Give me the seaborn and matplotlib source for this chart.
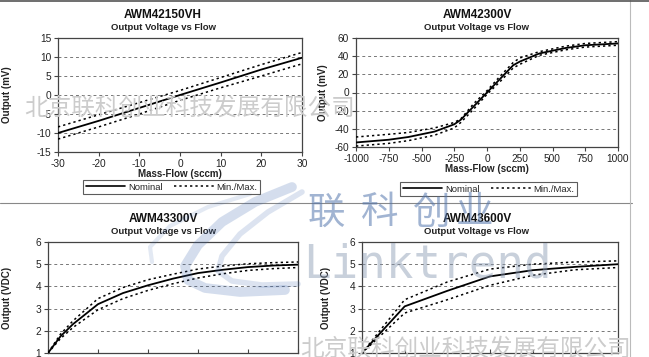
import matplotlib
matplotlib.use("Agg")
import matplotlib.pyplot as plt
import seaborn as sns
import pandas as pd
from matplotlib.lines import Line2D

sns.set_theme(style="white")
plt.rcParams['font.family'] = ['Liberation Sans', 'DejaVu Sans']
plt.rcParams['axes.unicode_minus'] = False

W, H = 649, 357

# ---------------- data ----------------
# AWM42150VH
flow_a = [-30, -20, -10, 0, 10, 20, 30]
nom_a = [-10.0, -6.8, -3.4, 0.0, 3.3, 6.7, 9.8]
max_a = [-8.4, -5.2, -2.0, 1.2, 4.6, 8.0, 11.2]
min_a = [-11.6, -8.4, -5.0, -1.4, 1.9, 5.0, 8.2]

# AWM42300V
flow_b = [-1000, -750, -600, -400, -250, -200, -100, 0, 100, 200, 250, 400, 600, 750, 1000]
nom_b = [-55, -52, -49, -43, -35, -30, -15, 0, 15, 30, 34, 43, 49, 52, 54]
max_b = [-49, -46, -44, -39, -33, -29, -12, 2, 18, 33, 38, 45, 51, 54, 56]
min_b = [-59, -56, -53, -47, -39, -33, -18, -2, 12, 27, 31, 41, 47, 50, 52]

# AWM43300V
flow_c = [0, 50, 100, 200, 300, 400, 500, 600, 700, 800, 900, 1000]
nom_c = [1.0, 1.75, 2.3, 3.2, 3.7, 4.05, 4.35, 4.6, 4.75, 4.87, 4.94, 4.98]
max_c = [1.0, 1.85, 2.45, 3.45, 3.95, 4.3, 4.55, 4.78, 4.92, 5.02, 5.07, 5.1]
min_c = [1.0, 1.65, 2.15, 2.95, 3.45, 3.82, 4.12, 4.38, 4.57, 4.72, 4.8, 4.85]

# AWM43600V
flow_d = [0, 100, 200, 300, 400, 500, 600]
nom_d = [1.0, 3.1, 3.8, 4.45, 4.73, 4.88, 5.0]
max_d = [1.0, 3.4, 4.2, 4.78, 5.0, 5.1, 5.15]
min_d = [1.0, 2.8, 3.4, 4.05, 4.5, 4.75, 4.85]

panels = [
    dict(title="AWM42150VH", x=flow_a, nom=nom_a, mx=max_a, mn=min_a,
         box=(58, 38, 302, 152), xlim=(-30, 30), xt=[-30, -20, -10, 0, 10, 20, 30],
         ylim=(-15, 15), yt=[-15, -10, -5, 0, 5, 10, 15], ylab="Output (mV)", ylx=12,
         xlab="Mass-Flow (sccm)", tx=163, legend=(88, 178, 255, 196), show_x=True),
    dict(title="AWM42300V", x=flow_b, nom=nom_b, mx=max_b, mn=min_b,
         box=(356, 38, 618, 147), xlim=(-1000, 1000),
         xt=[-1000, -750, -500, -250, 0, 250, 500, 750, 1000],
         ylim=(-60, 60), yt=[-60, -40, -20, 0, 20, 40, 60], ylab="Output (mV)", ylx=328,
         xlab="Mass-Flow (sccm)", tx=477, legend=(392, 180, 585, 198), show_x=True),
    dict(title="AWM43300V", x=flow_c, nom=nom_c, mx=max_c, mn=min_c,
         box=(48, 242, 298, 353), xlim=(0, 1000), xt=[0, 200, 400, 600, 800, 1000],
         ylim=(1, 6), yt=[1, 2, 3, 4, 5, 6], ylab="Output (VDC)", ylx=12,
         xlab=None, tx=163, legend=None, show_x=False),
    dict(title="AWM43600V", x=flow_d, nom=nom_d, mx=max_d, mn=min_d,
         box=(362, 242, 618, 353), xlim=(0, 600), xt=[0, 100, 200, 300, 400, 500, 600],
         ylim=(1, 6), yt=[1, 2, 3, 4, 5, 6], ylab="Output (VDC)", ylx=331,
         xlab=None, tx=477, legend=None, show_x=False),
]

fig = plt.figure(figsize=(W / 100, H / 100), dpi=100)
fig.patch.set_facecolor("white")


def fx(px):
    return px / W


def fy(py):
    return 1 - py / H


cjk = ['Noto Sans CJK SC', 'DejaVu Sans']

# faint grey watermark lines (behind the plots)
wm_gray = "#cccccc"
fig.text(fx(24), fy(108), "北京联科创业科技发展有限公司", fontsize=17, color=wm_gray,
         family=cjk, va="center", ha="left", zorder=0)
fig.text(fx(300), fy(349), "北京联科创业科技发展有限公司", fontsize=17, color=wm_gray,
         family=cjk, va="center", ha="left", zorder=0)

# logo swooshes (decorative)
swooshes = [
    ([292, 255, 222, 198, 185, 188, 205, 240, 285], [187, 202, 222, 245, 266, 280, 288, 292, 290], 7, 0.22),
    ([302, 268, 240, 222, 218, 232, 262, 298], [192, 212, 234, 256, 271, 281, 285, 284], 4, 0.18),
    ([250, 208, 170, 150, 152], [194, 207, 226, 247, 262], 3, 0.14),
]
for xs, ys, lw, al in swooshes:
    fig.add_artist(Line2D([fx(v) for v in xs], [fy(v) for v in ys], color="#3f68ad",
                          lw=lw, alpha=al, solid_capstyle="round", solid_joinstyle="round",
                          zorder=5))

for p in panels:
    x0, y0, x1, y1 = p["box"]
    ax = fig.add_axes([fx(x0), fy(y1), fx(x1 - x0), (y1 - y0) / H])
    ax.set_facecolor("none")
    df = pd.DataFrame({"flow": p["x"], "Nominal": p["nom"], "Max": p["mx"], "Min": p["mn"]})
    sns.lineplot(data=df, x="flow", y="Max", ax=ax, color="black", lw=1.1,
                 linestyle=(0, (1.5, 2.0)), zorder=3)
    sns.lineplot(data=df, x="flow", y="Min", ax=ax, color="black", lw=1.1,
                 linestyle=(0, (1.5, 2.0)), zorder=3)
    sns.lineplot(data=df, x="flow", y="Nominal", ax=ax, color="black", lw=1.3, zorder=4)
    ax.set_xlim(*p["xlim"])
    ax.set_ylim(*p["ylim"])
    ax.set_xticks(p["xt"])
    ax.set_yticks(p["yt"])
    for yv in p["yt"][1:-1]:
        ax.axhline(yv, color="#777777", lw=0.7, linestyle=(0, (3, 3)), zorder=1)
    for s in ax.spines.values():
        s.set_color("#444444")
        s.set_linewidth(0.9)
    ax.tick_params(axis="both", which="major", length=3, width=0.8, color="#444444",
                   labelsize=7.3, pad=2, direction="out", labelcolor="#222222")
    ax.tick_params(axis="y", left=True)
    ax.tick_params(axis="x", bottom=True)
    if not p["show_x"]:
        ax.tick_params(axis="x", labelbottom=False, direction="in")
    ax.set_xlabel("")
    ax.set_ylabel(p["ylab"], fontsize=7, fontweight="bold", color="#222222")
    ax.yaxis.set_label_coords((p["ylx"] - x0) / (x1 - x0), 0.5)
    if p["xlab"]:
        ax.set_xlabel(p["xlab"], fontsize=7, fontweight="bold", labelpad=0, color="#222222")
    fig.text(fx(p["tx"]), fy(y0 - 23), p["title"], fontsize=8.5, fontweight="bold",
             ha="center", va="center", color="#111111")
    fig.text(fx(p["tx"]), fy(y0 - 10), "Output Voltage vs Flow", fontsize=6.8,
             fontweight="bold", ha="center", va="center", color="#222222")
    if p["legend"]:
        lx0, ly0, lx1, ly1 = p["legend"]
        handles = [Line2D([], [], color="black", lw=1.2),
                   Line2D([], [], color="black", lw=1.1, linestyle=(0, (1.5, 2.0)))]
        leg = fig.legend(handles, ["Nominal", "Min./Max."], loc="center",
                         bbox_to_anchor=(fx((lx0 + lx1) / 2), fy((ly0 + ly1) / 2)),
                         ncol=2, fontsize=6.8, frameon=True, fancybox=False,
                         handlelength=4.2, columnspacing=1.2, handletextpad=0.3,
                         borderpad=0.3)
        leg.get_frame().set_edgecolor("#333333")
        leg.get_frame().set_linewidth(0.8)

# separator lines
fig.add_artist(Line2D([0, fx(632)], [fy(203), fy(203)], color="#888888", lw=0.8))
fig.add_artist(Line2D([fx(630), fx(630)], [0, 1], color="#bbbbbb", lw=0.8))
fig.add_artist(Line2D([0, 1], [fy(1), fy(1)], color="#555555", lw=1.2))

# big watermark on top
for ch, cx in zip("联科创业", [326, 380, 432, 474]):
    fig.text(fx(cx), fy(213), ch, fontsize=27, color="#5577ad", alpha=0.55,
             family=cjk, va="center", ha="center", zorder=10)
fig.text(fx(303), fy(265), "Linktrend", fontsize=33, color="#8797b0", alpha=0.45,
         family=['DejaVu Sans Mono'], va="center", ha="left", zorder=10)

fig.savefig("out.png", dpi=100, facecolor="white")
